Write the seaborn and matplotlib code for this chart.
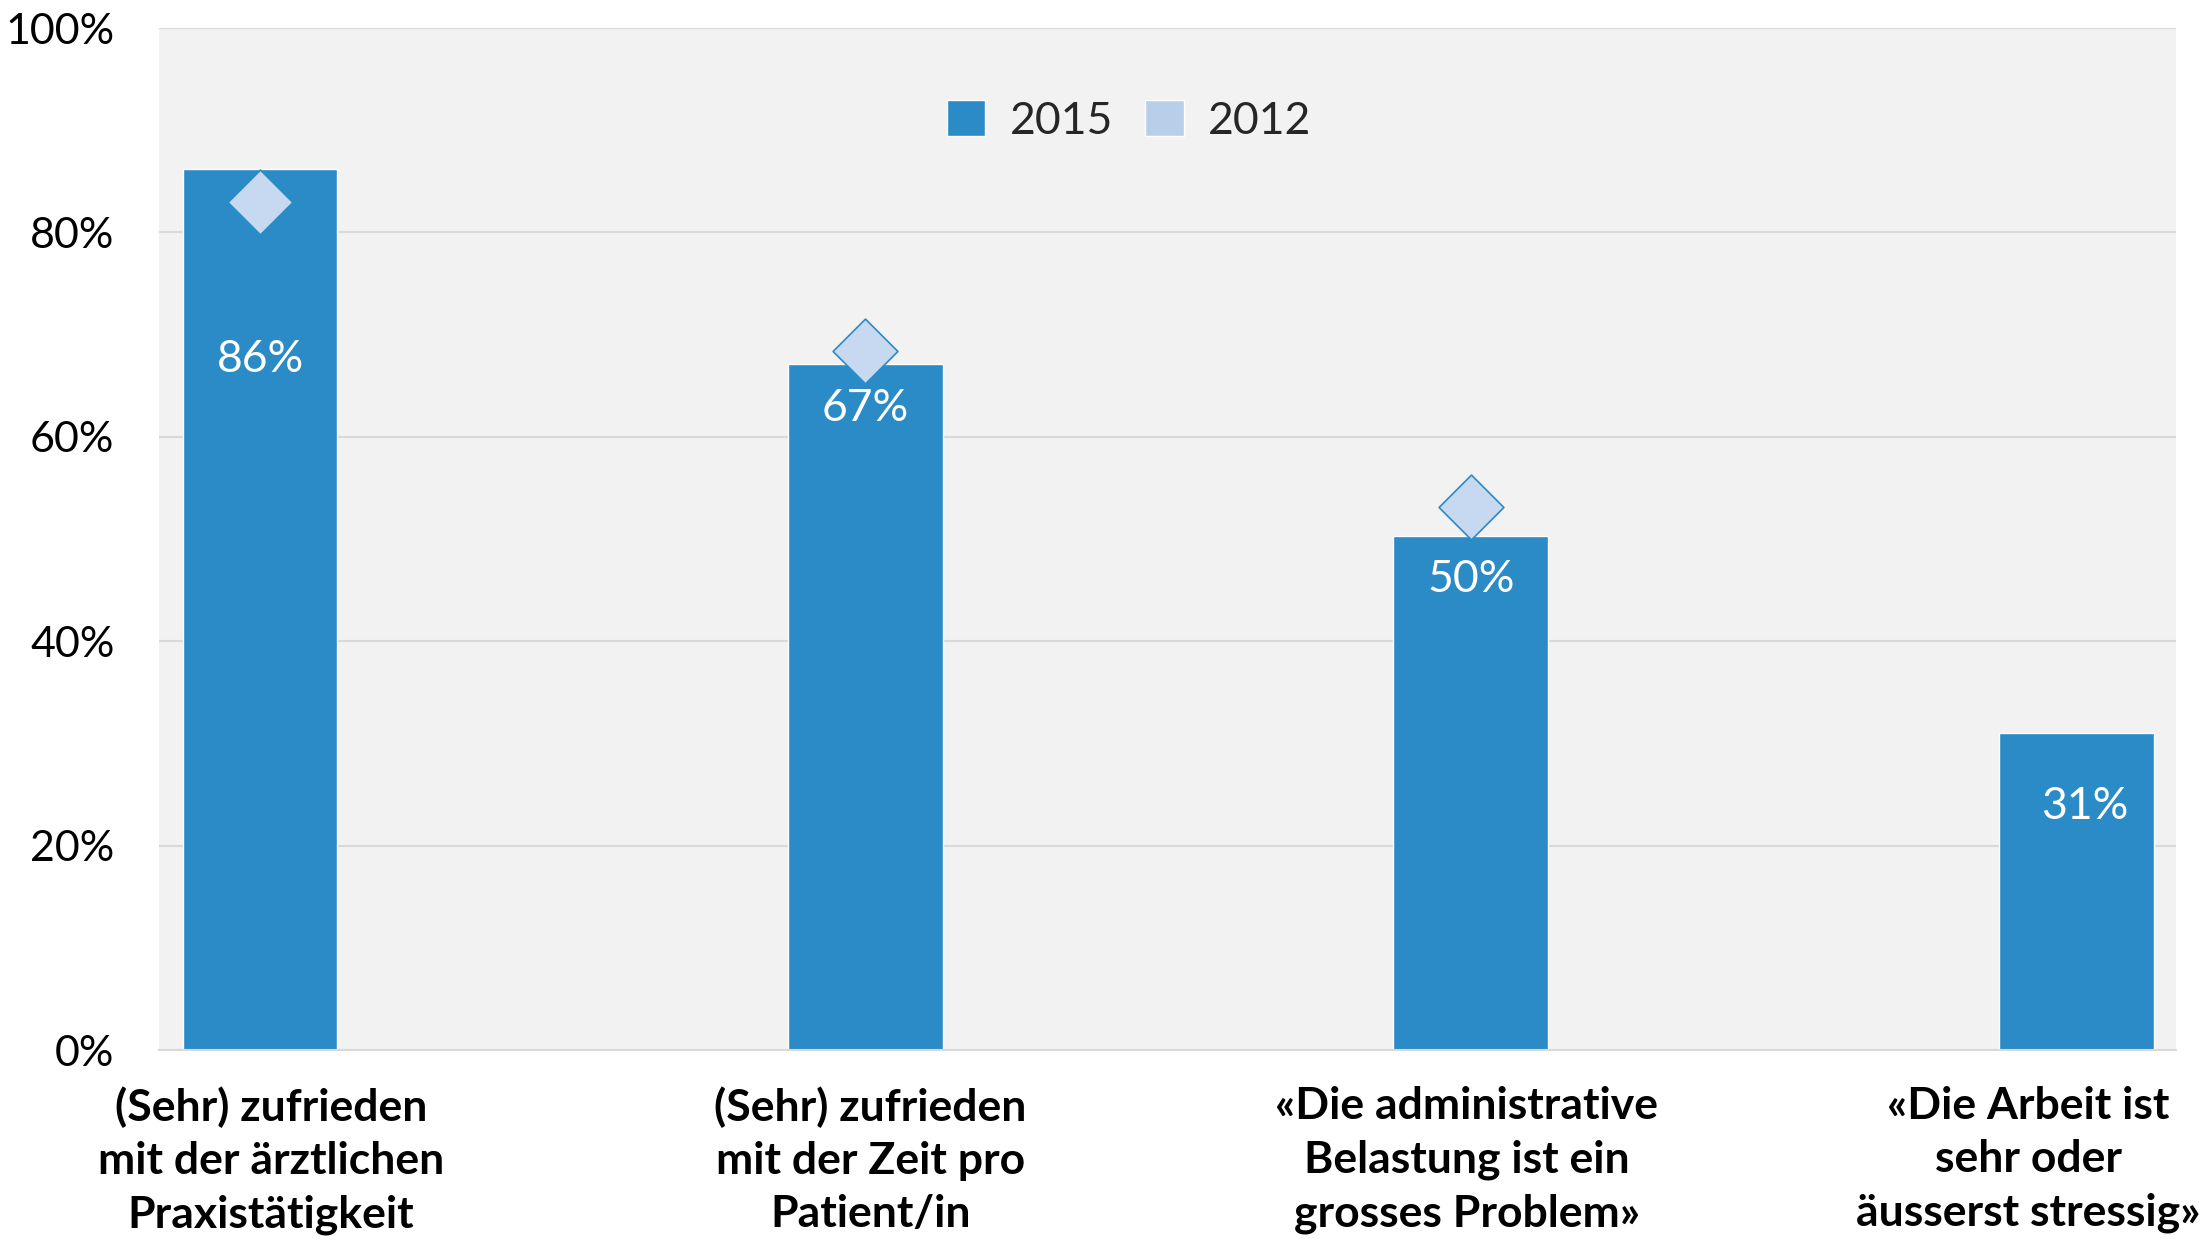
import matplotlib
matplotlib.use('Agg')
import matplotlib.pyplot as plt
import matplotlib.transforms as mtransforms
from matplotlib.patches import Patch
from matplotlib.ticker import PercentFormatter
import seaborn as sns
import numpy as np
import pandas as pd

# Data
categories = [
    "(Sehr) zufrieden\nmit der ärztlichen\nPraxistätigkeit",
    "(Sehr) zufrieden\nmit der Zeit pro\nPatient/in",
    "«Die administrative\nBelastung ist ein\ngrosses Problem»",
    "«Die Arbeit ist\nsehr oder\näusserst stressig»",
]
values_2015 = [86.2, 67.1, 50.3, 31.0]
values_2012 = [83.0, 68.4, 53.1, np.nan]
value_labels = ["86%", "67%", "50%", "31%"]
series_names = ["2015", "2012"]

bar_color = "#2B8BC6"
diamond_color = "#C6D9F0"
legend_2012_color = "#B8CFEA"

sns.set_theme(style="white")
plt.rcParams['font.family'] = ['Lato', 'DejaVu Sans']

df = pd.DataFrame({"Kategorie": categories, "2015": values_2015, "2012": values_2012})

fig, ax = plt.subplots(figsize=(22.04, 12.39), dpi=100)
fig.subplots_adjust(left=0.0721, right=0.9873, top=0.9774, bottom=0.1525)
ax.set_facecolor("#F2F2F2")

sns.barplot(data=df, x="Kategorie", y="2015", order=categories, color=bar_color,
            width=0.256, saturation=1, ax=ax, zorder=2)
sns.stripplot(data=df, x="Kategorie", y="2012", order=categories, jitter=False,
              marker="D", size=33, color=diamond_color, edgecolor=bar_color,
              linewidth=1.2, ax=ax, zorder=3)

# value labels inside the bars (distance below bar top, in points)
label_drop = [137, 32, 31, 53]
label_dx = [0, 0, 0, 6]
for i, (v, txt, drop, dx) in enumerate(zip(values_2015, value_labels, label_drop, label_dx)):
    ax.annotate(txt, (i, v), xytext=(dx, -drop), textcoords='offset points',
                ha='center', va='center', color='white', fontsize=32, zorder=4)

# axes styling
ax.set_ylim(0, 100)
ax.set_xlim(-0.167, 3.165)
ax.set_yticks([0, 20, 40, 60, 80, 100])
ax.yaxis.set_major_formatter(PercentFormatter(100, decimals=0))
ax.tick_params(axis='y', labelsize=31, length=0, pad=32, labelcolor='black')
ax.tick_params(axis='x', labelsize=32, length=0, pad=26, labelcolor='black')
ax.grid(axis='y', color='#D9D9D9', linewidth=1.5)
ax.set_axisbelow(True)
ax.set_xlabel('')
ax.set_ylabel('')
for s in ax.spines.values():
    s.set_visible(False)
ax.spines['bottom'].set_visible(True)
ax.spines['bottom'].set_color('#D9D9D9')
ax.spines['bottom'].set_linewidth(1.5)

shifts = [11, 5, -4, -48]
for lbl, dx in zip(ax.get_xticklabels(), shifts):
    lbl.set_fontweight('bold')
    lbl.set_linespacing(1.4)
    lbl.set_transform(lbl.get_transform() +
                      mtransforms.ScaledTranslation(dx / 100, 0, fig.dpi_scale_trans))

handles = [Patch(facecolor=bar_color, label=series_names[0]),
           Patch(facecolor=legend_2012_color, label=series_names[1])]
ax.legend(handles=handles, loc='center', bbox_to_anchor=(0.481, 0.909), ncol=2,
          frameon=False, fontsize=32, handlelength=0.86, handleheight=0.86,
          handletextpad=0.55, columnspacing=0.73)

plt.savefig('out.png', dpi=100)
